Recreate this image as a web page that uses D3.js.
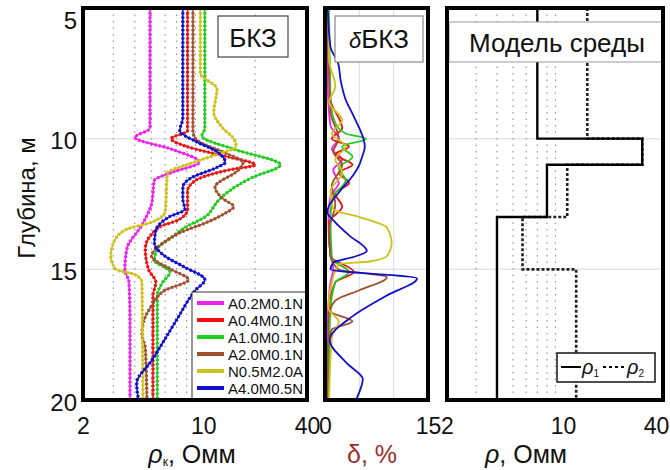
<!DOCTYPE html>
<html>
<head>
<meta charset="utf-8">
<script src="https://cdn.jsdelivr.net/npm/d3@7"></script>
<style>
  body { margin: 0; background: #fff; }
  svg { display: block; }
  text { font-family: "Liberation Sans", Arial, sans-serif; fill: #111; }
</style>
</head>
<body>
<svg id="chart" width="670" height="470"></svg>
<script>
// ---- axes ----
const depthDomain = [5, 20];
const depthTicks = [5, 10, 15, 20];
const rhoDomain = [2, 40];
const rhoTicks = [2, 10, 40];
const rhoGrid1 = [3, 4, 5, 6, 7, 8, 9, 20];
const rhoGrid3 = [3, 4, 5, 6, 7, 8, 9];
const deltaDomain = [0, 15];
const deltaTicks = [0, 15];
const deltaGrid = [5, 10];
const depthGrid = [10, 15];

// ---- sondes ----
const sondeNames = ["A0.2M0.1N", "A0.4M0.1N", "A1.0M0.1N", "A2.0M0.1N", "N0.5M2.0A", "A4.0M0.5N"];
const sondeColors = ["#f020f0", "#ee1111", "#1fcc1f", "#a0502d", "#cfc21c", "#1010cc"];

// apparent resistivity, [depth m, Ohm·m]
const rhoA02 = [[5,4.9],[9.6,4.9],[9.95,4.0],[10.4,6.5],[10.9,9.5],[11.3,6.5],[11.6,5.2],[12.5,5.0],[13.3,4.4],[14.2,3.6],[15.0,3.5],[15.5,3.7],[17,3.75],[20,3.75]];
const rhoA04 = [[5,8.1],[9.7,8.1],[10.0,6.5],[10.3,8.0],[10.7,14],[11.0,20],[11.2,14],[11.6,9.0],[12.0,8.1],[12.7,8.1],[13.1,7.2],[13.4,5.5],[14.2,4.6],[15.0,4.8],[15.5,5.3],[16,5.1],[20,5.1]];
const rhoA10 = [[5,10.2],[9.6,10.2],[9.9,9.8],[10.4,15],[11.0,28],[11.5,19],[12.1,13.5],[12.4,12.1],[13.0,10.2],[13.4,7.8],[13.8,6.5],[14.15,5.5],[14.65,5.2],[15.1,6.4],[15.5,5.8],[16,5.4],[20,5.4]];
const rhoA20 = [[5,8.7],[9.7,8.7],[10.0,9.0],[10.6,14],[10.9,17],[11.2,16],[11.85,11.7],[12.3,13],[12.6,15],[12.9,13],[13.2,10.5],[13.6,7.3],[14.0,5.8],[14.5,5.0],[15.0,6.5],[15.4,8.2],[15.8,6.0],[16.4,5.0],[17.0,4.5],[17.5,4.4],[18,4.6],[20,4.7]];
const rhoN05 = [[5,9.6],[7.5,9.6],[8.1,12],[9.0,11.5],[9.6,13],[10.0,15],[10.3,15.5],[10.6,12],[11.0,8.0],[11.3,6.2],[12.8,6.0],[13.2,5.0],[13.5,3.5],[14.0,3.0],[14.5,2.9],[15.0,3.1],[15.2,4.0],[15.5,4.4],[20,4.46]];
const rhoA40 = [[5,7.6],[9.2,7.6],[9.7,7.3],[10.1,9.0],[10.5,12],[10.9,13.4],[11.1,12],[11.5,8.5],[11.85,7.6],[12.3,7.6],[12.7,7.8],[13.0,6.3],[13.5,5.3],[14.0,5.2],[14.5,6.0],[14.9,7.7],[15.4,10.2],[15.8,9.0],[17,6.9],[18.5,5.0],[19.35,4.1],[20,4.2]];

// relative difference between the two models, [depth m, %]
const deltaA02 = [[5,0.3],[8,0.4],[9.5,0.8],[10,2.0],[10.4,1.0],[10.8,2.5],[11.2,1.2],[11.7,2.0],[12.2,0.8],[13,0.5],[14,0.6],[15,1.2],[15.5,0.8],[17,0.4],[20,0.3]];
const deltaA04 = [[5,0.5],[8.5,0.8],[9.6,2.5],[10,1.0],[10.3,3.5],[10.6,1.5],[11,4.0],[11.3,2.0],[11.7,3.5],[12.1,1.5],[12.6,2.5],[13.2,0.6],[14.5,0.8],[15.1,4.2],[15.5,1.5],[16.5,0.6],[20,0.5]];
const deltaA10 = [[5,0.6],[8.5,0.8],[9.4,1.5],[9.8,3.0],[10.0,6.0],[10.3,2.5],[10.7,4.0],[11.1,2.0],[11.6,3.0],[12.2,1.2],[13,0.8],[14.6,1.0],[15.1,3.5],[15.5,1.5],[16.5,0.8],[18,0.6],[20,0.5]];
const deltaA20 = [[5,0.4],[9,0.8],[10,2.0],[10.5,1.2],[11,2.5],[11.8,1.0],[12.5,1.5],[13.5,0.6],[14.5,0.8],[15.0,2.0],[15.3,9.0],[15.8,5.0],[16.2,1.5],[16.6,0.8],[17.0,4.0],[17.3,1.0],[18,0.4],[20,0.4]];
const deltaN05 = [[5,0.5],[7,0.6],[8,1.5],[8.6,0.6],[9.3,2.5],[9.8,1.0],[10.3,3.0],[10.8,1.5],[11.3,2.5],[12,0.8],[12.7,1.2],[13.0,5.0],[13.4,9.0],[14.0,9.7],[14.5,9.0],[14.7,6.5],[14.8,2.0],[15.5,1.0],[16.5,0.5],[17,2.0],[17.6,1.0],[20,0.6]];
const deltaA40 = [[5,0.4],[6.5,0.8],[7.1,1.9],[7.8,2.3],[8.5,3.0],[9.1,4.1],[9.6,5.0],[10.0,5.6],[10.3,5.8],[10.7,5.4],[11.0,5.0],[11.4,4.1],[12.0,2.2],[12.8,0.3],[13.2,1.5],[13.7,3.5],[14.3,6.1],[14.5,4.5],[14.75,1.2],[15.0,0.8],[15.35,13.4],[16.0,9.0],[16.8,4.0],[17.7,0.7],[18.6,3.2],[19.2,5.5],[19.7,5.0],[20,4.5]];

// layered earth models: layer boundaries (m) and layer resistivities (Ohm·m)
const model1Depth = [5, 10, 11, 13, 20];
const model1Rho = [7, 30, 8, 4];
const model2Depth = [5, 10, 11, 13, 15, 20];
const model2Rho = [14, 30, 10.6, 5.7, 12];

const rhoSeries = [rhoA02, rhoA04, rhoA10, rhoA20, rhoN05, rhoA40];
const deltaSeries = [deltaA02, deltaA04, deltaA10, deltaA20, deltaN05, deltaA40];

// ---- layout ----
const svg = d3.select("#chart");
const plotTop = 8, plotBottom = 400;
const panel1 = [83, 307], panel2 = [325, 428], panel3 = [447, 663];

const y = d3.scaleLinear().domain(depthDomain).range([plotTop, plotBottom]);
const x1 = d3.scaleLog().domain(rhoDomain).range(panel1);
const x2 = d3.scaleLinear().domain(deltaDomain).range(panel2);
const x3 = d3.scaleLog().domain(rhoDomain).range(panel3);

const defs = svg.append("defs");
[["clip1", panel1], ["clip2", panel2], ["clip3", panel3]].forEach(([id, p]) => {
  defs.append("clipPath").attr("id", id).append("rect")
    .attr("x", p[0]).attr("y", plotTop).attr("width", p[1] - p[0]).attr("height", plotBottom - plotTop);
});

function grid(g, xs, values, dashed) {
  g.selectAll(null).data(values).enter().append("line")
    .attr("x1", d => xs(d)).attr("x2", d => xs(d))
    .attr("y1", plotTop).attr("y2", plotBottom)
    .attr("stroke", dashed ? "#9a9a9a" : "#e2e2e2")
    .attr("stroke-width", 1.2)
    .attr("stroke-dasharray", dashed ? "1.5,5" : null);
}
function hgrid(g, range) {
  g.selectAll(null).data(depthGrid).enter().append("line")
    .attr("x1", range[0]).attr("x2", range[1])
    .attr("y1", d => y(d)).attr("y2", d => y(d))
    .attr("stroke", "#e6e6e6").attr("stroke-width", 1.5);
}

// ---- panel 1: apparent resistivity curves ----
const g1 = svg.append("g");
hgrid(g1, panel1);
grid(g1, x1, rhoGrid1, true);
const c1 = g1.append("g").attr("clip-path", "url(#clip1)");
const lineRho = d3.line().x(d => x1(d[1])).y(d => y(d[0])).curve(d3.curveMonotoneY);
rhoSeries.forEach((s, i) => {
  c1.append("path").attr("d", lineRho(s)).attr("fill", "none")
    .attr("stroke", sondeColors[i]).attr("stroke-width", 1.6);
  c1.append("path").attr("d", lineRho(s)).attr("fill", "none")
    .attr("stroke", sondeColors[i]).attr("stroke-width", 3.2)
    .attr("stroke-dasharray", "2.2,2");
});

// title box
g1.append("rect").attr("x", 218).attr("y", 16).attr("width", 70).attr("height", 41)
  .attr("fill", "#fff").attr("stroke", "#444").attr("stroke-width", 1.2);
g1.append("text").attr("x", 253).attr("y", 47).attr("text-anchor", "middle")
  .attr("font-size", 26).text("БКЗ");

// legend
const leg = g1.append("g").attr("clip-path", "url(#clip1)");
leg.append("rect").attr("x", 192).attr("y", 292).attr("width", 120).attr("height", 108)
  .attr("fill", "#fff").attr("stroke", "#333").attr("stroke-width", 1);
sondeNames.forEach((n, i) => {
  const yy = 303 + i * 17;
  leg.append("line").attr("x1", 197).attr("x2", 224).attr("y1", yy).attr("y2", yy)
    .attr("stroke", sondeColors[i]).attr("stroke-width", 4);
  leg.append("text").attr("x", 228).attr("y", yy + 5.5).attr("font-size", 15).text(n);
});

// ---- panel 2: difference ----
const g2 = svg.append("g");
hgrid(g2, panel2);
grid(g2, x2, deltaGrid, false);
const c2 = g2.append("g").attr("clip-path", "url(#clip2)");
const lineDelta = d3.line().x(d => x2(d[1])).y(d => y(d[0])).curve(d3.curveMonotoneY);
deltaSeries.forEach((s, i) => {
  c2.append("path").attr("d", lineDelta(s)).attr("fill", "none")
    .attr("stroke", sondeColors[i]).attr("stroke-width", 1.8);
});
g2.append("rect").attr("x", 335).attr("y", 16).attr("width", 88).attr("height", 46)
  .attr("fill", "#fff").attr("stroke", "#888").attr("stroke-width", 1.2);
const t2 = g2.append("text").attr("x", 379).attr("y", 48).attr("text-anchor", "middle").attr("font-size", 26);
t2.append("tspan").attr("font-style", "italic").attr("font-size", 22).text("δ");
t2.append("tspan").text("БКЗ");

// ---- panel 3: earth models ----
const g3 = svg.append("g");
hgrid(g3, panel3);
grid(g3, x3, rhoGrid3, true);
const c3 = g3.append("g").attr("clip-path", "url(#clip3)");
function steps(depths, rhos) {
  const pts = [];
  rhos.forEach((r, i) => { pts.push([depths[i], r]); pts.push([depths[i + 1], r]); });
  return pts;
}
const lineModel = d3.line().x(d => x3(d[1])).y(d => y(d[0]));
c3.append("path").attr("d", lineModel(steps(model2Depth, model2Rho))).attr("fill", "none")
  .attr("stroke", "#222").attr("stroke-width", 2.6).attr("stroke-dasharray", "3,2");
c3.append("path").attr("d", lineModel(steps(model1Depth, model1Rho))).attr("fill", "none")
  .attr("stroke", "#000").attr("stroke-width", 2.4);

g3.append("rect").attr("x", 449).attr("y", 22).attr("width", 214).attr("height", 40)
  .attr("fill", "#fff").attr("stroke", "#999").attr("stroke-width", 1);
g3.append("text").attr("x", 557).attr("y", 52).attr("text-anchor", "middle")
  .attr("font-size", 26).text("Модель среды");

// model legend
const lg3 = g3.append("g");
lg3.append("rect").attr("x", 557).attr("y", 353).attr("width", 98).attr("height", 29)
  .attr("fill", "#fff").attr("stroke", "#222").attr("stroke-width", 1.6);
lg3.append("line").attr("x1", 561).attr("x2", 581).attr("y1", 367).attr("y2", 367)
  .attr("stroke", "#000").attr("stroke-width", 2);
const lt1 = lg3.append("text").attr("x", 582).attr("y", 374).attr("font-size", 20);
lt1.append("tspan").attr("font-style", "italic").text("ρ");
lt1.append("tspan").attr("font-size", 10).attr("dy", 3).text("1");
lg3.append("line").attr("x1", 603).attr("x2", 625).attr("y1", 367).attr("y2", 367)
  .attr("stroke", "#000").attr("stroke-width", 2).attr("stroke-dasharray", "3,3");
const lt2 = lg3.append("text").attr("x", 627).attr("y", 374).attr("font-size", 20);
lt2.append("tspan").attr("font-style", "italic").text("ρ");
lt2.append("tspan").attr("font-size", 10).attr("dy", 3).text("2");

// ---- frames ----
[panel1, panel2, panel3].forEach(p => {
  svg.append("rect").attr("x", p[0]).attr("y", plotTop).attr("width", p[1] - p[0])
    .attr("height", plotBottom - plotTop).attr("fill", "none")
    .attr("stroke", "#000").attr("stroke-width", 4);
});

// ---- axes ----
const yAxis = svg.append("g").attr("transform", `translate(${panel1[0]},0)`)
  .call(d3.axisLeft(y).tickValues(depthTicks).tickSize(0).tickPadding(6));
yAxis.select(".domain").remove();
yAxis.selectAll("text").attr("font-size", 24).attr("font-family", null).attr("fill", "#111")
  .attr("dy", "0.42em");
yAxis.selectAll(".tick").filter(d => d === 5).select("text").attr("dy", "0.85em");

function xAxis(scale, ticks) {
  const a = svg.append("g").attr("transform", `translate(0,${plotBottom})`)
    .call(d3.axisBottom(scale).tickValues(ticks).tickFormat(d3.format("d")).tickSize(0).tickPadding(18));
  a.select(".domain").remove();
  a.selectAll("text").attr("font-size", 23).attr("font-family", null).attr("fill", "#111");
  return a;
}
xAxis(x1, rhoTicks);
xAxis(x2, deltaTicks);
const ax3 = xAxis(x3, rhoTicks);
ax3.selectAll(".tick").filter(d => d === 40).select("text").attr("dx", -7);

// ---- axis titles ----
svg.append("text").attr("transform", "translate(35,198) rotate(-90)")
  .attr("text-anchor", "middle").attr("font-size", 24).text("Глубина, м");

const tx1 = svg.append("text").attr("x", 192).attr("y", 463).attr("text-anchor", "middle").attr("font-size", 25);
tx1.append("tspan").attr("font-style", "italic").text("ρ");
tx1.append("tspan").attr("font-size", 12).attr("dy", 3).text("к");
tx1.append("tspan").attr("dy", -3).text(", Омм");

svg.append("text").attr("x", 372).attr("y", 463).attr("text-anchor", "middle")
  .attr("font-size", 25).style("fill", "#9b2d2d").text("δ, %");

const tx3 = svg.append("text").attr("x", 526).attr("y", 463).attr("text-anchor", "middle").attr("font-size", 25);
tx3.append("tspan").attr("font-style", "italic").text("ρ");
tx3.append("tspan").text(", Омм");
</script>
</body>
</html>
